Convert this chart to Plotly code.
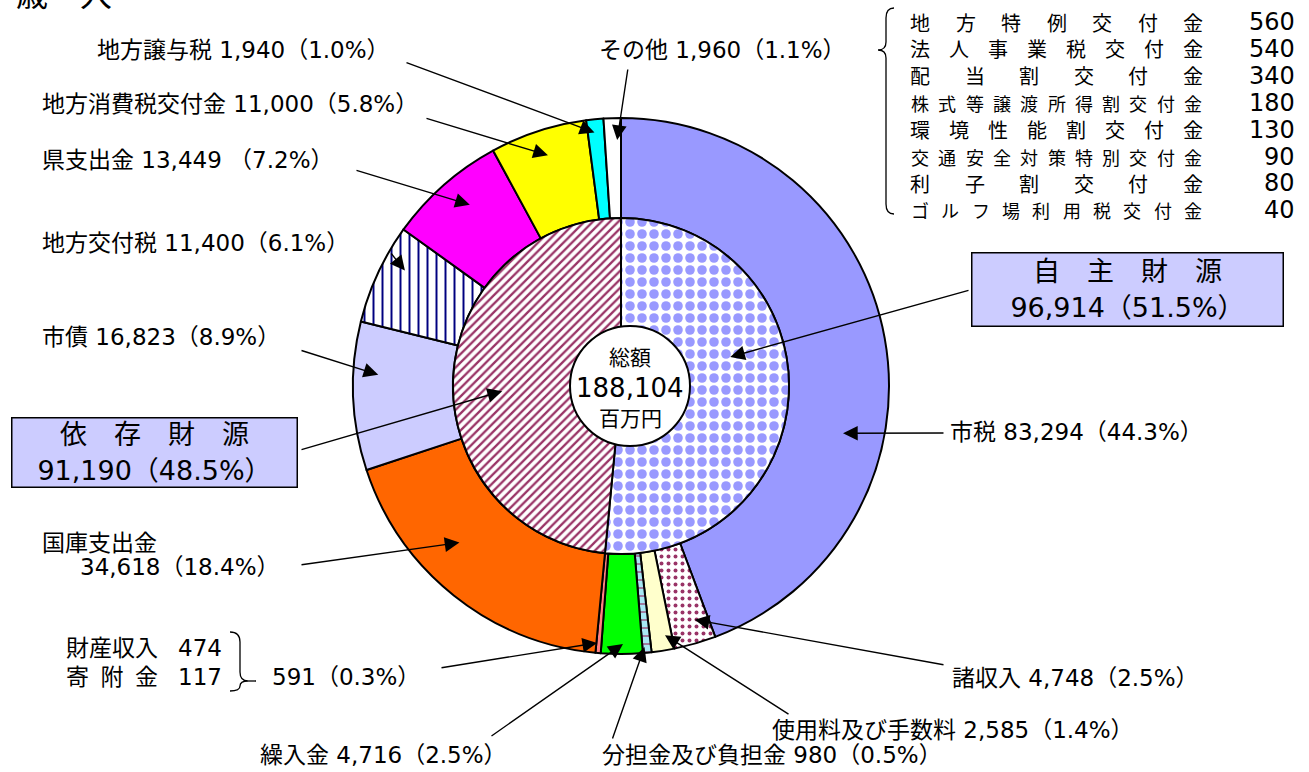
import math
import plotly.graph_objects as go

W, H = 1309, 772

# ---------------- data ----------------
outer_labels = ["市税", "諸収入", "使用料及び手数料", "分担金及び負担金", "繰入金",
                "財産収入・寄附金", "国庫支出金", "市債", "地方交付税", "県支出金",
                "地方消費税交付金", "地方譲与税", "その他"]
outer_values = [83294, 4748, 2585, 980, 4716, 591, 34618, 16823, 11400, 13449,
                11000, 1940, 1960]
outer_pct = ["44.3", "2.5", "1.4", "0.5", "2.5", "0.3", "18.4", "8.9", "6.1",
             "7.2", "5.8", "1.0", "1.1"]

inner_labels = ["自主財源", "依存財源"]
inner_values = [96914, 91190]
inner_pct = ["51.5", "48.5"]

total_value = 188104

zaisan_names = ["財産収入", "寄\u2002附\u2002金"]
zaisan_values = [474, 117]

sonota_names = ["地方特例交付金", "法人事業税交付金", "配当割交付金", "株式等譲渡所得割交付金",
                "環境性能割交付金", "交通安全対策特別交付金", "利子割交付金", "ゴルフ場利用税交付金"]
sonota_values = [560, 540, 340, 180, 130, 90, 80, 40]

# ---------------- styles ----------------
outer_colors = ["#9999FF", "#FFFFFF", "#FFFFCC", "#A8E8F4", "#00FF00", "#FF8080",
                "#FF6600", "#CCCCFF", "#FFFFFF", "#FF00FF", "#FFFF00", "#00FFFF", "#FFFFFF"]
outer_shapes = ["", ".", "", "-", "", "", "", "", "|", "", "", "", ""]
outer_fg = ["#9999FF", "#993366", "#FFFFCC", "#993366", "#00FF00", "#FF8080",
            "#FF6600", "#CCCCFF", "#000080", "#FF00FF", "#FFFF00", "#00FFFF", "#FFFFFF"]
outer_size = [8, 7, 8, 8, 8, 8, 8, 8, 9, 8, 8, 8, 8]
outer_sol = [0.3, 0.25, 0.3, 0.15, 0.3, 0.3, 0.3, 0.3, 0.22, 0.3, 0.3, 0.3, 0.3]

FONT = "DejaVu Sans, Noto Sans CJK JP, sans-serif"
JFONT = "Noto Sans CJK JP, sans-serif"
LBL = 23

cx, cy = 621, 386
R_out, R_mid, R_hole = 268, 168, 50


def dom(r):
    return dict(x=[(cx - r) / W, (cx + r) / W], y=[(H - cy - r) / H, (H - cy + r) / H])


def cum_angles(vals):
    tot = sum(vals)
    out, a = [], 0.0
    for v in vals:
        s = a
        a += v / tot * 360.0
        out.append((s, a))
    return out


def pt(theta, r):
    t = math.radians(theta)
    return cx + r * math.sin(t), cy - r * math.cos(t)


fig = go.Figure()

fig.add_trace(go.Pie(
    labels=outer_labels, values=outer_values, sort=False, direction="clockwise",
    rotation=0, hole=R_mid / R_out, domain=dom(R_out), textinfo="none",
    hoverinfo="skip", showlegend=False,
    marker=dict(colors=outer_colors, line=dict(color="black", width=2),
                pattern=dict(shape=outer_shapes, fgcolor=outer_fg, bgcolor=outer_colors,
                             size=outer_size, solidity=outer_sol, fillmode="replace")),
))

fig.add_trace(go.Pie(
    labels=inner_labels, values=inner_values, sort=False, direction="clockwise",
    rotation=0, hole=R_hole / R_mid, domain=dom(R_mid), textinfo="none",
    hoverinfo="skip", showlegend=False,
    marker=dict(colors=["#FFFFFF", "#FFFFFF"], line=dict(color="black", width=2),
                pattern=dict(shape=[".", "/"], fgcolor=["#9999FF", "#993366"],
                             bgcolor=["#FFFFFF", "#FFFFFF"], size=[12, 6],
                             solidity=[0.5, 0.38], fillmode="replace")),
))

ann = []
shapes = []


def text(x, y, s, size=LBL, anchor="left", font=FONT, **kw):
    ann.append(dict(x=x, y=y, xref="x", yref="y", text=s, showarrow=False,
                    xanchor=anchor, yanchor="middle",
                    font=dict(family=font, size=size, color="black"), **kw))


def arrow(head, tail):
    ann.append(dict(x=head[0], y=head[1], ax=tail[0], ay=tail[1], xref="x", yref="y",
                    axref="x", ayref="y", text="", showarrow=True, arrowhead=2,
                    arrowsize=2.1, arrowwidth=1.4, arrowcolor="black", standoff=0))


# label placement (layout only): index -> (text pos, tail, frac in slice, radius)
outer_place = {
    0: ((948, 432), (945, 433), 0.64, 227),
    1: ((950, 678), (945, 665), 0.34, 245),
    2: ((770, 730), (790, 715), 0.30, 253),
    3: ((600, 755), (612, 740), 0.75, 262),
    4: ((258, 755), (490, 737), 0.47, 258),
    5: (None, (440, 668), 0.85, 258),
    6: (None, (300, 565), 0.61, 225),
    7: ((40, 337), (300, 350), 0.65, 243),
    8: ((40, 243), (390, 252), 0.65, 245),
    9: ((40, 160), (355, 170), 0.56, 236),
    10: ((40, 104), (425, 118), 0.52, 242),
    11: ((95, 50), (405, 62), 0.40, 255),
    12: ((597, 50), (628, 68), 0.76, 246),
}

oang = cum_angles(outer_values)
for i, (tpos, tail, frac, r) in outer_place.items():
    s, e = oang[i]
    head = pt(s + frac * (e - s), r)
    arrow(head, tail)
    if tpos is not None:
        sep = " （" if outer_labels[i] == "県支出金" else "（"
        text(tpos[0], tpos[1], f"{outer_labels[i]} {outer_values[i]:,}{sep}{outer_pct[i]}%）")

# 国庫支出金 two lines
text(40, 543, outer_labels[6])
text(78, 567, f"{outer_values[6]:,}（{outer_pct[6]}%）")

# 財産収入・寄附金
for k, (nm, v) in enumerate(zip(zaisan_names, zaisan_values)):
    y = 648 + k * 29
    text(64, y, nm)
    text(224, y, f"{v}", anchor="right")
text(270, 677, f"{outer_values[5]:,}（{outer_pct[5]}%）")
shapes.append(dict(type="path", xref="x", yref="y",
                   path="M 230 632 Q 240 632 240 642 L 240 672 Q 240 681 248 681 "
                        "Q 240 681 240 686 L 240 686 Q 240 691 230 691",
                   line=dict(color="black", width=1.3)))
shapes.append(dict(type="line", xref="x", yref="y", x0=248, y0=681, x1=256, y1=681,
                   line=dict(color="black", width=1.3)))

# inner ring boxes
iang = cum_angles(inner_values)
inner_place = {
    0: ((1127, 289), 314, 76, (970, 290), 0.405, 113, "自　主　財　源"),
    1: ((154, 452), 288, 72, (300, 450), 0.47, 119, "依　存　財　源"),
}
for i, (c, bw, bh, tail, frac, r, title) in inner_place.items():
    s, e = iang[i]
    head = pt(s + frac * (e - s), r)
    arrow(head, tail)
    ann.append(dict(x=c[0], y=c[1], xref="x", yref="y", showarrow=False,
                    text=f"{title}<br>{inner_values[i]:,}（{inner_pct[i]}%）",
                    width=bw - 4, height=bh - 4, bgcolor="#CCCCFF", bordercolor="black",
                    borderwidth=1.5, borderpad=0, align="center", valign="middle",
                    font=dict(family=FONT, size=27, color="black")))

# center circle
ccx, ccy, cr = 630, 386, 60
shapes.append(dict(type="circle", xref="x", yref="y", x0=ccx - cr, x1=ccx + cr,
                   y0=ccy - cr, y1=ccy + cr, fillcolor="white",
                   line=dict(color="black", width=2), layer="above"))
text(ccx, 358, "総額", size=21, anchor="center")
text(ccx, 388, f"{total_value:,}", size=26, anchor="center")
text(ccx, 419, "百万円", size=21, anchor="center")

# top-right breakdown of その他
for k, (nm, v) in enumerate(zip(sonota_names, sonota_values)):
    y = 22 + k * 26.9
    n = len(nm)
    fs = 20 if n <= 8 else 18
    x0, x1 = 920, 1193
    for j, ch in enumerate(nm):
        x = x0 + (x1 - x0) * j / (n - 1)
        text(x, y, ch, size=fs, anchor="center", font=JFONT)
    text(1297, y, f"{v}", size=24, anchor="right")
shapes.append(dict(type="path", xref="x", yref="y",
                   path="M 894 8 Q 886 8 886 18 L 886 42 Q 886 50 878 50 "
                        "Q 886 50 886 58 L 886 204 Q 886 214 894 214",
                   line=dict(color="black", width=1.3)))

# cut-off title at the very top
ann.append(dict(x=14 / W, y=1 + 8 / H, xref="paper", yref="paper", text="歳　入",
                showarrow=False, xanchor="left", yanchor="middle",
                font=dict(family=JFONT, size=32, color="black")))

fig.update_layout(
    width=W, height=H, autosize=False,
    margin=dict(l=0, r=0, t=0, b=0),
    paper_bgcolor="white", plot_bgcolor="white",
    xaxis=dict(range=[0, W], visible=False, fixedrange=True, domain=[0, 1]),
    yaxis=dict(range=[H, 0], visible=False, fixedrange=True, domain=[0, 1]),
    annotations=ann, shapes=shapes, showlegend=False,
)

fig.write_html(
    "out.html",
    config={"displayModeBar": False},
    post_script="document.body.style.margin='0';document.body.style.overflow='hidden';",
)
